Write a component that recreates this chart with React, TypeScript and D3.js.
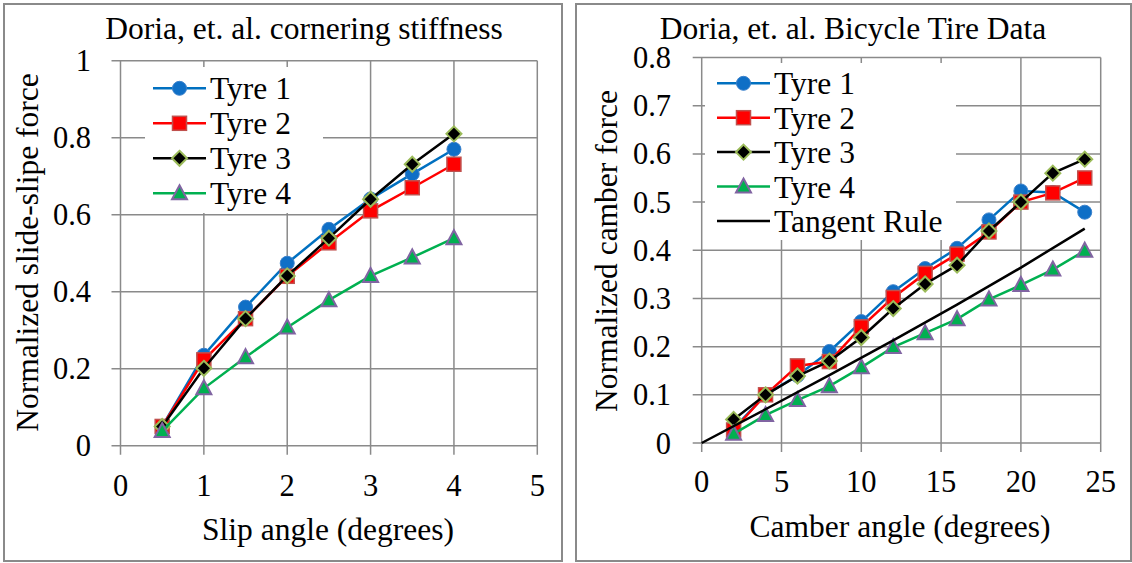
import * as d3 from "d3";

// left chart: cornering stiffness
const slipAngles = [0.5, 1, 1.5, 2, 2.5, 3, 3.5, 4];
const slipTyre1 = [0.05, 0.235, 0.36, 0.474, 0.562, 0.641, 0.706, 0.77];
const slipTyre2 = [0.05, 0.223, 0.33, 0.44, 0.527, 0.61, 0.67, 0.731];
const slipTyre3 = [0.05, 0.201, 0.33, 0.441, 0.539, 0.64, 0.731, 0.81];
const slipTyre4 = [0.038, 0.149, 0.23, 0.307, 0.378, 0.441, 0.489, 0.539];
const slipTicksX = [0, 1, 2, 3, 4, 5];
const slipTicksY = [0, 0.2, 0.4, 0.6, 0.8, 1];

// right chart: camber force
const camberAngles = [2, 4, 6, 8, 10, 12, 14, 16, 18, 20, 22, 24];
const camberTyre1 = [0.03, 0.1, 0.14, 0.19, 0.252, 0.314, 0.362, 0.404, 0.463, 0.523, 0.52, 0.479];
const camberTyre2 = [0.027, 0.1, 0.16, 0.169, 0.241, 0.302, 0.352, 0.392, 0.438, 0.5, 0.519, 0.55];
const camberTyre3 = [0.049, 0.1, 0.139, 0.17, 0.219, 0.279, 0.33, 0.369, 0.44, 0.5, 0.56, 0.589];
const camberTyre4 = [0.019, 0.058, 0.089, 0.118, 0.157, 0.199, 0.228, 0.257, 0.298, 0.328, 0.36, 0.399];
const tangentAngles = [0, 4, 8, 12, 16, 20, 24];
const tangentForce = [0, 0.07, 0.141, 0.213, 0.287, 0.364, 0.445];
const camberTicksX = [0, 5, 10, 15, 20, 25];
const camberTicksY = [0, 0.1, 0.2, 0.3, 0.4, 0.5, 0.6, 0.7, 0.8];

const FONT = "Liberation Serif, Times New Roman, serif";
const GRID = "#8a8a8a";

type Marker = "circle" | "square" | "diamond" | "triangle" | "none";
type Series = {
  name: string;
  xs: number[];
  ys: number[];
  color: string;
  marker: Marker;
  fill: string;
  edge: string;
};

function MarkerShape({ kind, x, y, fill, edge }: { kind: Marker; x: number; y: number; fill: string; edge: string }) {
  if (kind === "circle")
    return <circle cx={x} cy={y} r={7} fill={fill} stroke={edge} strokeWidth={1} />;
  if (kind === "square")
    return <rect x={x - 7} y={y - 7} width={14} height={14} fill={fill} stroke={edge} strokeWidth={1.5} />;
  if (kind === "diamond")
    return (
      <path
        d={`M${x},${y - 7.5}L${x + 7.5},${y}L${x},${y + 7.5}L${x - 7.5},${y}Z`}
        fill={fill}
        stroke={edge}
        strokeWidth={2}
      />
    );
  if (kind === "triangle")
    return (
      <path
        d={`M${x},${y - 8}L${x + 7.5},${y + 6}L${x - 7.5},${y + 6}Z`}
        fill={fill}
        stroke={edge}
        strokeWidth={2}
      />
    );
  return null;
}

function Panel(props: {
  frame: [number, number, number, number];
  title: string;
  titleX: number;
  xTitle: string;
  xTitleX: number;
  xTitleY: number;
  yTitle: string;
  yTitleX: number;
  yTitleY: number;
  xRange: [number, number];
  yRange: [number, number];
  xTicks: number[];
  yTicks: number[];
  xLabelY: number;
  yLabelX: number;
  series: Series[];
  legend: { x: number; y: number; w: number; h: number; row0: number; step: number; lineX: number };
}) {
  const { frame, series, legend } = props;
  const x = d3
    .scaleLinear()
    .domain([props.xTicks[0], props.xTicks[props.xTicks.length - 1]])
    .range(props.xRange);
  const y = d3
    .scaleLinear()
    .domain([props.yTicks[0], props.yTicks[props.yTicks.length - 1]])
    .range(props.yRange);
  const [x0, x1] = props.xRange;
  const [y0, y1] = props.yRange;

  return (
    <g style={{ fontFamily: FONT }} fill="#000">
      <rect
        x={frame[0]}
        y={frame[1]}
        width={frame[2] - frame[0]}
        height={frame[3] - frame[1]}
        fill="#fff"
        stroke={GRID}
        strokeWidth={2}
      />
      <text x={props.titleX} y={39} textAnchor="middle" fontSize={31.5}>
        {props.title}
      </text>

      {/* gridlines + ticks */}
      {props.yTicks.map((t) => (
        <g key={"y" + t}>
          <line x1={x0 - 9} x2={x1} y1={y(t)} y2={y(t)} stroke={GRID} strokeWidth={1.5} />
          <text x={props.yLabelX} y={y(t) + 10.5} textAnchor="end" fontSize={30.5}>
            {t}
          </text>
        </g>
      ))}
      {props.xTicks.map((t) => (
        <g key={"x" + t}>
          <line x1={x(t)} x2={x(t)} y1={y1} y2={y0 + 9} stroke={GRID} strokeWidth={1.5} />
          <text x={x(t)} y={props.xLabelY} textAnchor="middle" fontSize={30.5}>
            {t}
          </text>
        </g>
      ))}

      {/* legend box sits over the grid */}
      <rect x={legend.x} y={legend.y} width={legend.w} height={legend.h} fill="#fff" />

      {/* series */}
      {series.map((s) => {
        const pts = s.xs.map((v, i) => [x(v), y(s.ys[i])] as [number, number]);
        return (
          <g key={s.name}>
            <path d={d3.line()(pts) ?? ""} fill="none" stroke={s.color} strokeWidth={2.5} />
            {pts.map((p, i) => (
              <MarkerShape key={i} kind={s.marker} x={p[0]} y={p[1]} fill={s.fill} edge={s.edge} />
            ))}
          </g>
        );
      })}

      {/* legend entries */}
      {series.map((s, i) => {
        const ry = legend.row0 + i * legend.step;
        return (
          <g key={"lg" + s.name}>
            <line x1={legend.lineX} x2={legend.lineX + 53} y1={ry} y2={ry} stroke={s.color} strokeWidth={2.5} />
            <MarkerShape kind={s.marker} x={legend.lineX + 26.5} y={ry} fill={s.fill} edge={s.edge} />
            <text x={legend.lineX + 57} y={ry + 11} fontSize={31.5}>
              {s.name}
            </text>
          </g>
        );
      })}

      <text x={props.xTitleX} y={props.xTitleY} textAnchor="middle" fontSize={31.5}>
        {props.xTitle}
      </text>
      <text
        transform={`translate(${props.yTitleX},${props.yTitleY}) rotate(-90)`}
        textAnchor="middle"
        fontSize={31.5}
      >
        {props.yTitle}
      </text>
    </g>
  );
}

const tyreStyle = [
  { color: "#0070c0", marker: "circle" as Marker, fill: "#0f6fc6", edge: "#3c82cc" },
  { color: "#ff0000", marker: "square" as Marker, fill: "#ff0000", edge: "#c0504d" },
  { color: "#000000", marker: "diamond" as Marker, fill: "#000000", edge: "#9bbb59" },
  { color: "#00b050", marker: "triangle" as Marker, fill: "#00b050", edge: "#8064a2" },
];

export default function App() {
  const slipSeries: Series[] = [slipTyre1, slipTyre2, slipTyre3, slipTyre4].map((ys, i) => ({
    name: `Tyre ${i + 1}`,
    xs: slipAngles,
    ys,
    ...tyreStyle[i],
  }));
  const camberSeries: Series[] = [camberTyre1, camberTyre2, camberTyre3, camberTyre4].map((ys, i) => ({
    name: `Tyre ${i + 1}`,
    xs: camberAngles,
    ys,
    ...tyreStyle[i],
  }));
  camberSeries.push({
    name: "Tangent Rule",
    xs: tangentAngles,
    ys: tangentForce,
    color: "#000000",
    marker: "none",
    fill: "none",
    edge: "none",
  });

  return (
    <svg width={1132} height={563} style={{ position: "absolute", left: 0, top: 0, background: "#fff" }}>
      <Panel
        frame={[4, 4, 562, 561]}
        title="Doria, et. al. cornering stiffness"
        titleX={304}
        xTitle="Slip angle (degrees)"
        xTitleX={328}
        xTitleY={540}
        yTitle="Normalized slide-slipe force"
        yTitleX={38}
        yTitleY={252.5}
        xRange={[120.5, 537.3]}
        yRange={[445.7, 60.7]}
        xTicks={slipTicksX}
        yTicks={slipTicksY}
        xLabelY={496}
        yLabelX={91}
        series={slipSeries}
        legend={{ x: 145, y: 67, w: 178, h: 146, row0: 88.3, step: 35, lineX: 153 }}
      />
      <Panel
        frame={[576, 4, 1131, 561]}
        title="Doria, et. al. Bicycle Tire Data"
        titleX={853}
        xTitle="Camber angle (degrees)"
        xTitleX={900}
        xTitleY={536.5}
        yTitle="Normalized camber force"
        yTitleX={617}
        yTitleY={251}
        xRange={[701.7, 1100.7]}
        yRange={[443, 57.5]}
        xTicks={camberTicksX}
        yTicks={camberTicksY}
        xLabelY={491.7}
        yLabelX={671}
        series={camberSeries}
        legend={{ x: 705, y: 63, w: 251, h: 177, row0: 83.3, step: 34.4, lineX: 717 }}
      />
    </svg>
  );
}
